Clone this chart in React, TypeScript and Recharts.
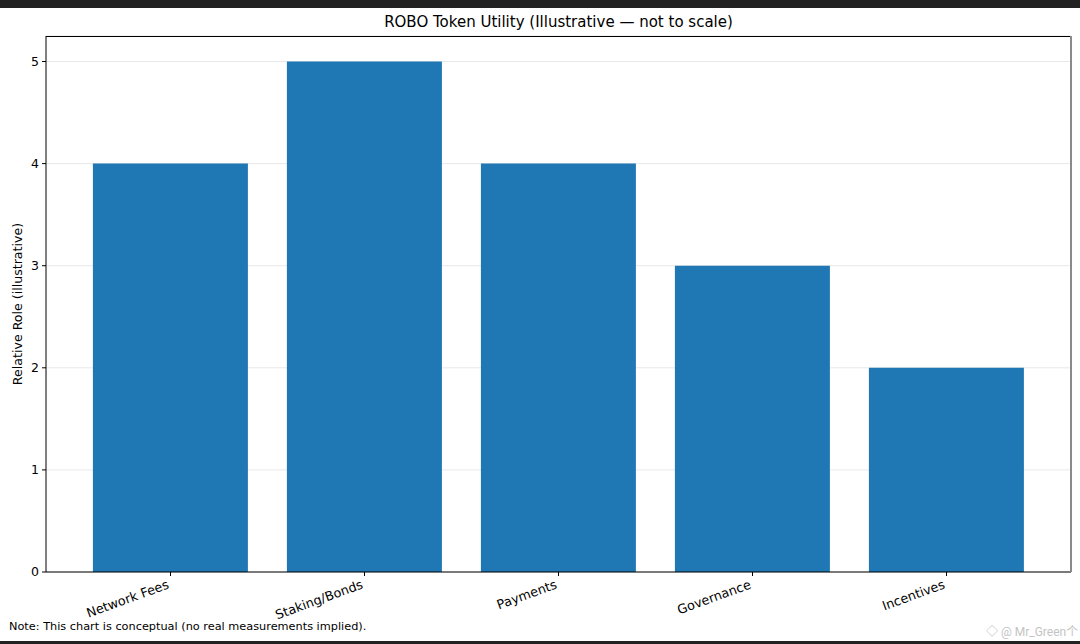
import React from 'react';
import { BarChart, Bar, XAxis, YAxis, CartesianGrid } from 'recharts';

const categories = ['Network Fees', 'Staking/Bonds', 'Payments', 'Governance', 'Incentives'];
const roleValues = [4, 5, 4, 3, 2];
const yTicks = [0, 1, 2, 3, 4, 5];

const data = categories.map((name, i) => ({ name, value: roleValues[i] }));

const FONT = '"DejaVu Sans", Verdana, sans-serif';

const SlantedTick = (props: any) => {
  const { x, y, payload } = props;
  return (
    <text
      transform={`translate(${x - 4},${y + 1}) rotate(-20)`}
      textAnchor="end"
      dy="0.75em"
      fontSize={12.8}
      fontFamily={FONT}
      fill="#000"
    >
      {payload.value}
    </text>
  );
};

const App: React.FC = () => {
  return (
    <div style={{ position: 'absolute', left: 0, top: 0, width: 1080, height: 644, background: '#fff', fontFamily: FONT }}>
      <div style={{ position: 'absolute', left: 0, top: 0, width: 1080, height: 8, background: '#222' }} />
      <div style={{ position: 'absolute', left: 0, top: 641, width: 1080, height: 3, background: '#222' }} />

      <div style={{ position: 'absolute', left: 46, width: 1025, top: 13, textAlign: 'center', fontSize: 15, color: '#000' }}>
        ROBO Token Utility (Illustrative — not to scale)
      </div>

      <div
        style={{
          position: 'absolute',
          left: 17,
          top: 304,
          transform: 'translate(-50%, -50%) rotate(-90deg)',
          whiteSpace: 'nowrap',
          fontSize: 12.6,
          color: '#000',
        }}
      >
        Relative Role (illustrative)
      </div>

      <BarChart
        width={1080}
        height={644}
        data={data}
        margin={{ top: 36, right: 9, left: 0, bottom: 0 }}
        style={{ position: 'absolute', left: 0, top: 0 }}
      >
        <CartesianGrid vertical={false} stroke="#e8e8e8" />
        <XAxis
          dataKey="name"
          height={72}
          padding={{ left: 27.5, right: 27.5 }}
          tick={<SlantedTick />}
          tickSize={4}
          tickMargin={2}
          interval={0}
          axisLine={{ stroke: '#000' }}
          tickLine={{ stroke: '#000' }}
        />
        <YAxis
          width={46}
          domain={[0, 5.25]}
          ticks={yTicks}
          tickSize={4}
          tickMargin={3}
          tick={{ fontSize: 12.5, fill: '#000', fontFamily: FONT }}
          axisLine={{ stroke: '#000' }}
          tickLine={{ stroke: '#000' }}
        />
        <Bar dataKey="value" fill="#1f77b4" barCategoryGap="10%" isAnimationActive={false} />
      </BarChart>

      {/* top and right spines */}
      <div style={{ position: 'absolute', left: 46, top: 36, width: 1025, height: 1, background: '#000' }} />
      <div style={{ position: 'absolute', left: 1070, top: 36, width: 2, height: 536, background: '#8a8a8a' }} />

      <div style={{ position: 'absolute', left: 9, top: 620, fontSize: 11.3, color: '#000', whiteSpace: 'nowrap' }}>
        Note: This chart is conceptual (no real measurements implied).
      </div>
      <div style={{ position: 'absolute', left: 986, top: 622, fontSize: 12, color: '#c4c4c4', fontFamily: 'Roboto, "Noto Sans CJK SC", sans-serif', whiteSpace: 'nowrap' }}>
        ◇ @ Mr_Green个
      </div>
    </div>
  );
};

export default App;
